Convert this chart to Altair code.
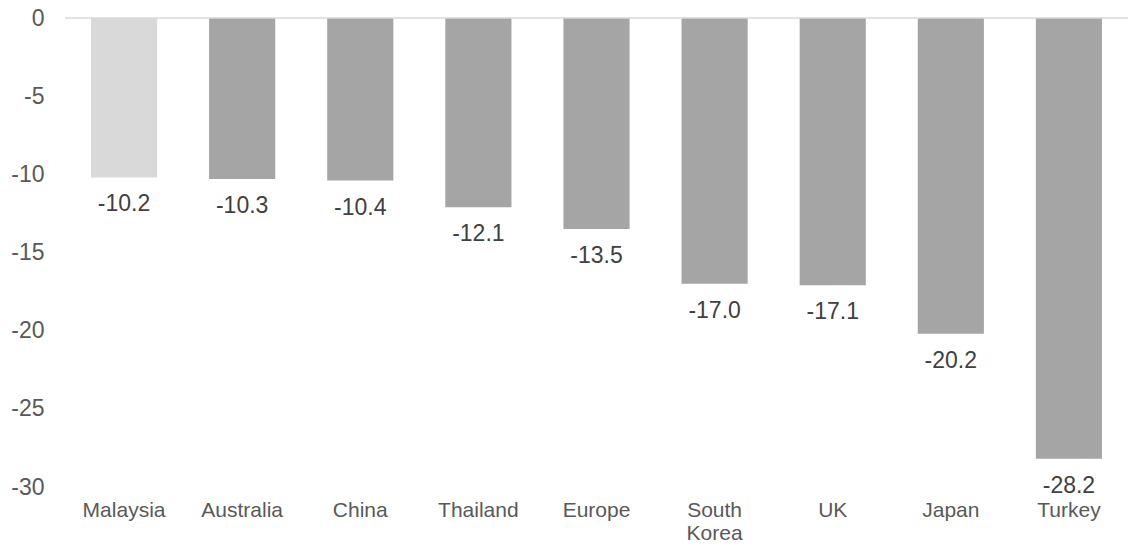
import altair as alt
import pandas as pd

countries = ["Malaysia", "Australia", "China", "Thailand", "Europe",
             "South Korea", "UK", "Japan", "Turkey"]
values = [-10.2, -10.3, -10.4, -12.1, -13.5, -17.0, -17.1, -20.2, -28.2]
colors = ["#D9D9D9"] + ["#A5A5A5"] * 8
y_ticks = [0, -5, -10, -15, -20, -25, -30]

df = pd.DataFrame({
    "country": countries,
    "value": values,
    "color": colors,
    "label": [f"{v:.1f}" for v in values],
})

FONT = "Liberation Sans"

x_enc = alt.X(
    "country:N", sort=countries, title=None,
    scale=alt.Scale(paddingInner=0.44, paddingOuter=0.22),
    axis=alt.Axis(
        orient="bottom", domain=False, ticks=False, labelAngle=0, grid=False,
        labelPadding=12, labelFontSize=21, labelColor="#595959",
        labelFont=FONT, labelBaseline="top", labelLineHeight=23,
        labelExpr="datum.value == 'South Korea' ? ['South', 'Korea'] : datum.value",
    ),
)
y_scale = alt.Scale(domain=[-30, 0], nice=False, zero=True)
y_axis = alt.Axis(
    values=y_ticks, domain=False, ticks=False, grid=False,
    labelPadding=21, labelFontSize=23, labelColor="#595959",
    labelFont=FONT, labelExpr="'' + datum.value",
)
y_enc = alt.Y("value:Q", scale=y_scale, title=None, axis=y_axis)

base = alt.Chart(df)
bars = base.mark_bar().encode(
    x=x_enc, y=y_enc, y2=alt.datum(0),
    color=alt.Color("color:N", scale=None),
)
zero = alt.Chart(pd.DataFrame({"z": [0]})).mark_rule(
    color="#D9D9D9", strokeWidth=1.5
).encode(y=alt.Y("z:Q", scale=y_scale, title=None, axis=y_axis))
text = base.mark_text(
    baseline="middle", align="center", dy=27, fontSize=23,
    color="#404040", font=FONT,
).encode(x=x_enc, y=y_enc, text="label:N")

chart = alt.layer(bars, zero, text).properties(
    width=1063, height=469,
    background="white",
    autosize=alt.AutoSizeParams(type="none"),
    padding={"left": 65, "top": 18, "right": 0, "bottom": 57},
).configure_view(stroke=None).configure_axis(
    domain=False, ticks=False, grid=False
)

chart.save("out.html", embed_options={"renderer": "svg", "actions": False})
